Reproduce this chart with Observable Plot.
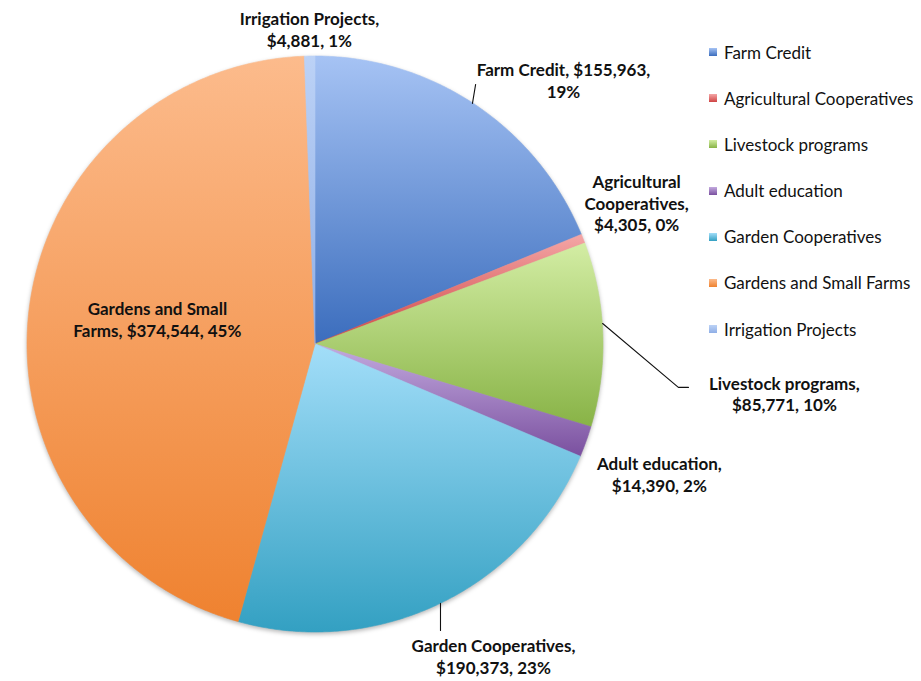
<!DOCTYPE html>
<html>
<head>
<meta charset="utf-8">
<script src="https://cdn.jsdelivr.net/npm/d3@7"></script>
<script src="https://cdn.jsdelivr.net/npm/@observablehq/plot@0.6"></script>
<style>
  html, body { margin: 0; padding: 0; background: #fff; }
  #wrap { position: relative; width: 921px; height: 681px; font-family: Lato, "Open Sans", sans-serif; }
  #legend { position: absolute; left: 709px; top: 29px; }
  .item { height: 46.17px; display: flex; align-items: center; font-size: 17px; color: #111; white-space: nowrap; }
  .sw { width: 8px; height: 8px; margin-right: 7px; }
</style>
</head>
<body>
<div id="wrap"><div id="chart"></div><div id="legend"></div></div>
<script>
// ---- data ----
const categories = ["Farm Credit", "Agricultural Cooperatives", "Livestock programs", "Adult education", "Garden Cooperatives", "Gardens and Small Farms", "Irrigation Projects"];
const amounts = [155963, 4305, 85771, 14390, 190373, 374544, 4881];
const percents = [19, 0, 10, 2, 23, 45, 1];

// ---- styles ----
const topColors    = ["#a6c3f4", "#f4a6a6", "#d3eda4", "#c3aadf", "#a3def9", "#fcbb8c", "#bcd2f6"];
const bottomColors = ["#3b6dbd", "#cf4444", "#88b346", "#7a509f", "#33a0c2", "#ef8230", "#8faee6"];

// ---- layout (label placement in unit-radius coordinates, words per wrapped line) ----
const labelLayout = [
  {x: 0.861, y: 0.917, words: [3, 1]},
  {x: 1.115, y: 0.493, words: [1, 1, 2]},
  {x: 1.628, y: -0.170, words: [2, 2]},
  {x: 1.194, y: -0.451, words: [2, 2]},
  {x: 0.618, y: -1.083, words: [2, 2]},
  {x: -0.549, y: 0.090, words: [3, 3]},
  {x: -0.021, y: 1.094, words: [2, 2]}
];
const leaderLayout = [
  {id: 0, pts: [[0.556, 0.903], [0.545, 0.837]]},
  {id: 2, pts: [[0.997, 0.073], [1.260, -0.149], [1.295, -0.149]]},
  {id: 4, pts: [[0.434, -0.899], [0.434, -0.993]]}
];

const fmt = d3.format(",");
const arcs = d3.pie().sort(null).value(d => d)(amounts);

// slice polygons in unit coordinates (clockwise from 12 o'clock)
const slicePts = arcs.flatMap((a, i) => {
  const pts = [{s: i, x: 0, y: 0}];
  const n = Math.max(2, Math.ceil((a.endAngle - a.startAngle) / (Math.PI / 360)));
  for (let k = 0; k <= n; k++) {
    const t = a.startAngle + (a.endAngle - a.startAngle) * k / n;
    pts.push({s: i, x: Math.sin(t), y: Math.cos(t)});
  }
  pts.push({s: i, x: 0, y: 0});
  return pts;
});

const labels = categories.map((c, i) => {
  const full = `${c}, $${fmt(amounts[i])}, ${percents[i]}%`;
  const tokens = full.split(" ");
  const lines = [];
  let p = 0;
  for (const w of labelLayout[i].words) { lines.push(tokens.slice(p, p + w).join(" ")); p += w; }
  return {x: labelLayout[i].x, y: labelLayout[i].y, text: lines.join("\n")};
});

const leaders = leaderLayout.flatMap(l => l.pts.map(([x, y]) => ({id: l.id, x, y})));

const plot = Plot.plot({
  width: 921,
  height: 681,
  marginLeft: 27,
  marginRight: 318,
  marginTop: 56,
  marginBottom: 49,
  x: {domain: [-1, 1], axis: null},
  y: {domain: [-1, 1], axis: null},
  color: {domain: d3.range(categories.length), range: bottomColors},
  style: {fontFamily: "Lato, 'Open Sans', sans-serif", background: "white"},
  marks: [
    Plot.area(slicePts, {x1: "x", y1: "y", x2: 0, y2: 0, z: "s", fill: "s", stroke: "s", strokeWidth: 0.6, curve: "linear"}),
    Plot.line(leaders, {x: "x", y: "y", z: "id", stroke: "#111", strokeWidth: 1.1}),
    Plot.text(labels, {
      x: "x", y: "y", text: "text",
      fontSize: 17, fontWeight: "bold", lineHeight: 1.29, fill: "#111"
    })
  ]
});

// gradients
const svg = d3.select(plot);
const defs = svg.insert("defs", ":first-child");
categories.forEach((c, i) => {
  const g = defs.append("linearGradient").attr("id", `grad${i}`)
    .attr("x1", 0).attr("y1", 0).attr("x2", 0).attr("y2", 1);
  g.append("stop").attr("offset", "0%").attr("stop-color", topColors[i]);
  g.append("stop").attr("offset", "100%").attr("stop-color", bottomColors[i]);
});
svg.selectAll('g[aria-label="area"] path').each(function() {
  const fill = d3.select(this).attr("fill");
  const i = bottomColors.findIndex(c => d3.color(c) + "" === d3.color(fill) + "");
  if (i >= 0) d3.select(this).attr("fill", `url(#grad${i})`).attr("stroke", `url(#grad${i})`);
});
svg.select('g[aria-label="area"]').style("filter", "drop-shadow(0px 2px 2px rgba(0,0,0,0.28))");

document.getElementById("chart").appendChild(plot);

// legend
const legend = d3.select("#legend");
categories.forEach((c, i) => {
  const item = legend.append("div").attr("class", "item");
  item.append("div").attr("class", "sw")
    .style("background", `linear-gradient(${topColors[i]}, ${bottomColors[i]})`);
  item.append("span").text(c);
});
</script>
</body>
</html>
